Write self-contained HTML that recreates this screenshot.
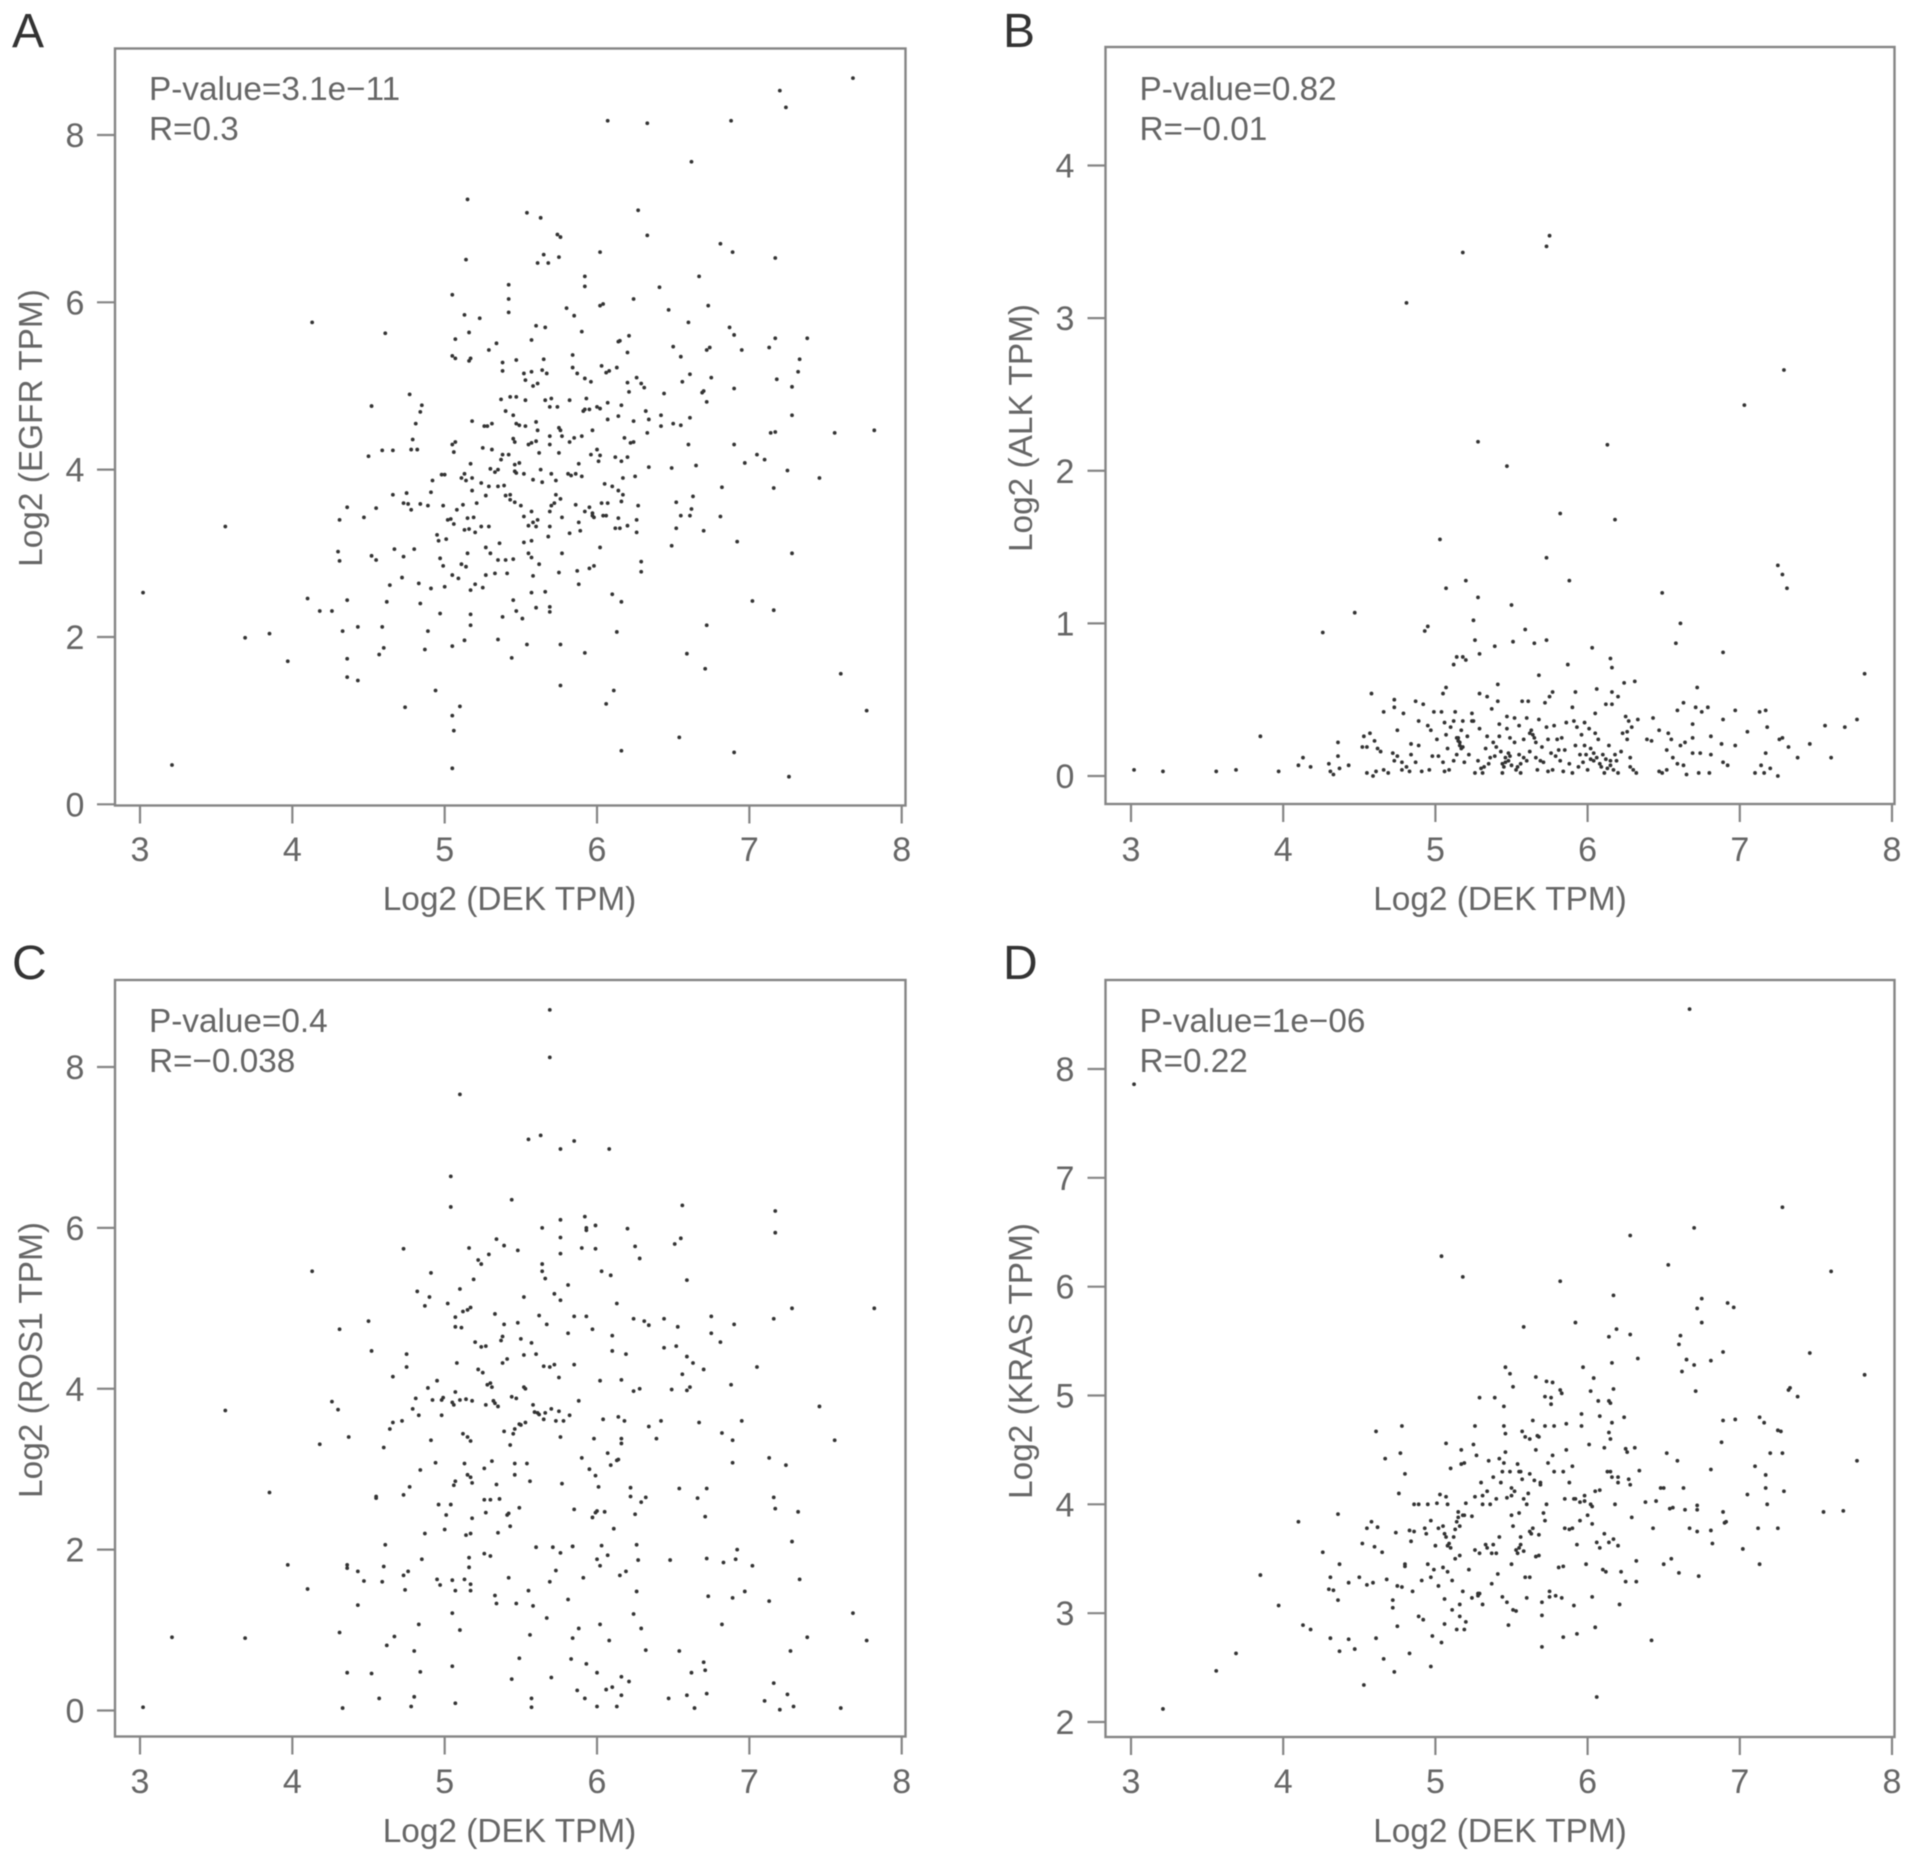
<!DOCTYPE html>
<html lang="en">
<head>
<meta charset="utf-8">
<title>DEK correlation scatter plots</title>
<style>
html,body{margin:0;padding:0;background:#fff;}
body{width:1913px;height:1863px;overflow:hidden;}
svg{display:block;filter:blur(0.55px);font-family:"Liberation Sans",sans-serif;}
.frame{fill:none;stroke:#858585;stroke-width:2.4;}
.tick{stroke:#858585;stroke-width:2.2;}
.ticklabel{font-size:34px;fill:#666;text-anchor:middle;}
.axistitle{font-size:33.4px;fill:#666;text-anchor:middle;}
.stat{font-size:33.3px;fill:#666;}
.letter{font-size:48px;fill:#333;}
.pt{fill:#333;}
</style>
</head>
<body>
<svg id="figure" width="1913" height="1863" viewBox="0 0 1913 1863" xmlns="http://www.w3.org/2000/svg">
<rect width="1913" height="1863" fill="#fff"/>
<g id="panel-a">
<text class="letter" x="12" y="47">A</text>
<rect class="frame" x="115" y="48.5" width="790.5" height="757"/>
<text class="stat" x="149" y="100">P-value=3.1e−11</text>
<text class="stat" x="149" y="140">R=0.3</text>
<text class="axistitle" x="509.5" y="910">Log2 (DEK TPM)</text>
<text class="axistitle" transform="translate(42,428) rotate(-90)">Log2 (EGFR TPM)</text>
</g>
<g id="panel-b">
<text class="letter" x="1003" y="47">B</text>
<rect class="frame" x="1105.5" y="47" width="789" height="757"/>
<text class="stat" x="1139.5" y="100">P-value=0.82</text>
<text class="stat" x="1139.5" y="140">R=−0.01</text>
<text class="axistitle" x="1500" y="910">Log2 (DEK TPM)</text>
<text class="axistitle" transform="translate(1032,428) rotate(-90)">Log2 (ALK TPM)</text>
</g>
<g id="panel-c">
<text class="letter" x="12" y="979">C</text>
<rect class="frame" x="115" y="980" width="790.5" height="756.5"/>
<text class="stat" x="149" y="1032">P-value=0.4</text>
<text class="stat" x="149" y="1072">R=−0.038</text>
<text class="axistitle" x="509.5" y="1842">Log2 (DEK TPM)</text>
<text class="axistitle" transform="translate(42,1360) rotate(-90)">Log2 (ROS1 TPM)</text>
</g>
<g id="panel-d">
<text class="letter" x="1003" y="979">D</text>
<rect class="frame" x="1105.5" y="980" width="789" height="757"/>
<text class="stat" x="1139.5" y="1032">P-value=1e−06</text>
<text class="stat" x="1139.5" y="1072">R=0.22</text>
<text class="axistitle" x="1500" y="1842">Log2 (DEK TPM)</text>
<text class="axistitle" transform="translate(1032,1361) rotate(-90)">Log2 (KRAS TPM)</text>
</g>
</svg>
<script>
const xTickValues=[3,4,5,6,7,8];
const egfrYTicks=[0,2,4,6,8];
const alkYTicks=[0,1,2,3,4];
const rosYTicks=[0,2,4,6,8];
const krasYTicks=[2,3,4,5,6,7,8];

const egfrPoints=[[3.02,2.53],[3.21,0.47],[3.56,3.32],[3.69,1.99],[3.85,2.04],[3.97,1.71],[4.10,2.46],[4.13,5.76],[4.18,2.31],[4.26,2.31],[4.30,3.02],[4.31,2.91],[4.31,3.40],[4.33,2.07],[4.36,3.55],[4.36,1.52],[4.36,1.74],[4.36,2.44],[4.43,2.12],[4.43,1.48],[4.47,3.43],[4.50,4.16],[4.52,4.76],[4.52,2.97],[4.55,2.92],[4.55,3.54],[4.57,1.79],[4.59,4.23],[4.59,2.12],[4.60,1.87],[4.61,5.63],[4.62,2.42],[4.64,2.62],[4.66,3.70],[4.66,4.23],[4.67,3.05],[4.72,2.71],[4.73,2.96],[4.73,3.60],[4.74,1.16],[4.75,3.72],[4.76,3.59],[4.77,4.90],[4.78,3.52],[4.78,4.24],[4.79,4.36],[4.80,3.05],[4.81,4.55],[4.82,4.24],[4.83,2.64],[4.84,3.59],[4.84,2.40],[4.84,4.69],[4.85,4.77],[4.87,1.85],[4.89,3.57],[4.89,2.07],[4.91,3.73],[4.92,3.87],[4.91,2.58],[4.94,1.36],[4.95,3.22],[4.96,3.15],[4.97,2.94],[4.97,2.28],[4.98,3.94],[4.99,3.57],[4.99,2.85],[5.00,2.60],[5.01,3.17],
[5.15,7.23],[5.54,7.07],[5.63,7.01],[5.74,6.81],[5.76,6.78],[6.27,7.10],[6.33,6.80],[6.07,8.17],[6.33,8.14],[6.62,7.68],[6.88,8.17],[7.20,8.53],[7.24,8.33],[7.68,8.68],[5.14,6.51],[5.61,6.47],[5.65,6.57],[5.68,6.47],[5.75,6.54],[6.02,6.60],[6.81,6.70],[6.89,6.60],[7.17,6.53],[6.67,6.31],[5.92,6.31],[5.92,6.19],[5.42,6.21],[5.42,6.04],[5.42,5.88],[5.05,6.09],[5.13,5.85],[5.23,5.81],[5.16,5.64],[5.07,5.56],[5.80,5.93],[5.85,5.84],[6.02,5.96],[6.04,5.98],[6.24,6.04],[6.41,6.18],[6.47,5.91],[6.60,5.76],[6.73,5.96],[5.60,5.72],[5.66,5.70],[5.57,5.55],[5.90,5.65],[6.14,5.53],[6.15,5.54],[6.21,5.60],[6.20,5.40],[5.34,5.51],[5.29,5.43],[5.05,5.36],[5.07,5.33],[5.16,5.30],[5.17,5.33],[5.38,5.28],[5.38,5.18],[5.47,5.31],[5.65,5.32],[5.52,5.15],[5.57,5.17],[5.64,5.19],[5.67,5.15],[5.53,5.07],[5.58,5.00],[5.61,5.03],[5.84,5.37],[5.84,5.22],[5.87,5.15],[5.92,5.09],[5.96,5.05],[6.03,5.24],[6.08,5.18],[6.06,5.16],[6.13,5.22],[6.20,5.04],[6.26,5.10],[6.29,5.03],[6.21,4.93],[6.31,4.98],[6.44,4.91],[6.50,5.47],[6.55,5.35],[6.61,5.14],[6.56,5.05],[6.72,5.43],[6.74,5.46],[6.75,5.10],[6.70,4.94],[6.72,4.81],[6.69,4.92],[6.87,5.70],[6.90,5.61],[6.95,5.43],[6.90,4.97],[7.13,5.46],[7.17,5.57],[7.38,5.57],[7.33,5.32],[7.32,5.17],[7.28,4.99],[7.18,5.08],[7.28,4.65],[7.56,4.44],[7.82,4.47],[7.14,4.44],[7.17,4.45],[6.90,4.30],[7.05,4.18],[7.10,4.12],[6.97,4.08],[7.25,3.99],[7.46,3.90],[7.16,3.78],[6.82,3.79],[6.65,4.05],[6.60,4.30],[6.49,4.02],[6.61,4.62],[6.50,4.55],[6.55,4.53],[6.42,4.52],[6.42,4.65],[6.32,4.70],[6.34,4.60],[6.24,4.58],[6.18,4.38],[6.22,4.32],[6.24,4.33],[6.33,4.44],[6.34,4.03],[6.20,4.15],[6.16,4.10],[6.12,4.15],[6.02,4.17],[6.16,4.77],[6.14,4.64],[6.07,4.60],[6.07,4.80],[6.00,4.75],[6.02,4.73],[5.92,4.72],[5.93,4.85],[5.91,4.70],[5.95,4.72],[5.82,4.83],[5.74,4.75],[5.69,4.75],[5.70,4.85],[5.66,4.83],[5.53,4.83],[5.47,4.87],[5.43,4.87],[5.37,4.84],[5.31,4.55],[5.26,4.52],[5.18,4.58],[5.40,4.70],[5.45,4.65],[5.49,4.53],[5.47,4.55],[5.53,4.52],[5.60,4.57],[5.61,4.47],[5.60,4.34],[5.57,4.32],[5.69,4.40],[5.76,4.47],[5.77,4.40],[5.69,4.30],[5.75,4.50],[5.82,4.33],[5.85,4.38],[5.90,4.40],[5.97,4.47],[6.00,4.24],[5.96,4.18],[6.01,4.10],[5.88,4.07],[5.75,4.20],[5.63,4.00],[5.46,4.33],[5.45,4.37],[5.42,4.18],[5.38,4.18],[5.35,4.00],[5.30,4.01],[5.31,4.24],[5.25,4.26],[5.07,4.33],[5.05,4.30],[5.06,4.21],[5.17,4.07],[5.13,3.95],[5.11,3.90],[5.00,3.94],[5.14,3.87],[5.18,3.90],[5.24,3.84],[5.29,3.80],[5.39,3.81],[5.33,3.97],[5.37,4.12],[5.46,4.06],[5.46,3.98],[5.47,3.96],[5.49,4.08],[5.58,3.88],[5.70,3.95],[5.73,3.87],[5.83,3.93],[5.81,3.95],[5.73,3.70],[5.72,3.60],[5.76,3.65],[5.77,3.43],[5.70,3.57],[5.69,3.50],[5.64,3.85],[5.57,3.50],[5.50,3.57],[5.46,3.61],[5.43,3.70],[5.40,3.69],[5.43,3.64],[5.27,3.69],[5.18,3.75],[5.12,3.58],[5.15,3.42],[5.04,3.41],[5.02,3.40],[5.06,3.35],[5.13,3.28],[5.16,3.29],[5.19,3.43],[5.20,3.25],[5.24,3.32],[5.29,3.32],[5.36,3.12],[5.27,3.07],[5.30,3.00],[5.35,2.92],[5.40,2.92],[5.45,2.93],[5.52,3.44],[5.55,3.33],[5.58,3.37],[5.61,3.40],[5.52,3.13],[5.55,3.00],[5.57,3.15],[5.57,2.95],[5.69,3.32],[5.68,3.20],[5.77,3.00],[5.62,2.87],[5.58,2.73],[5.75,2.77],[5.89,3.27],[5.82,3.24],[5.88,3.37],[5.97,3.48],[5.98,3.43],[6.02,3.07],[5.98,2.85],[5.95,2.82],[5.87,2.79],[5.88,2.63],[6.10,2.51],[6.16,2.42],[6.13,2.06],[6.10,3.80],[5.05,2.74],[5.09,2.70],[5.11,2.87],[5.20,2.63],[5.14,2.84],[5.17,2.56],[5.25,2.59],[5.27,2.74],[5.33,2.76],[5.41,2.76],[5.15,3.00],[5.45,2.44],[5.47,2.31],[5.51,2.22],[5.38,2.24],[5.60,2.35],[5.57,2.53],[5.66,2.54],[5.69,2.36],[5.69,2.30],[5.17,2.27],[5.17,2.14],[5.13,1.96],[5.35,1.97],[5.54,1.91],[5.05,1.89],[5.44,1.75],[5.76,1.91],[5.92,1.81],[5.76,1.42],[6.11,1.36],[6.06,1.20],[5.10,1.17],[5.05,1.06],[5.06,0.88],[5.05,0.43],[6.16,0.64],[6.54,0.80],[6.90,0.62],[7.26,0.33],[7.77,1.12],[7.60,1.56],[6.71,1.62],[6.59,1.80],[6.72,2.14],[7.02,2.43],[7.16,2.32],[7.28,3.00],[6.92,3.14],[6.70,3.27],[6.49,3.09],[6.52,3.30],[6.55,3.45],[6.61,3.45],[6.62,3.53],[6.63,3.68],[6.52,3.61],[6.81,3.44],[6.29,2.90],[6.29,2.78],[6.26,3.25],[6.26,3.40],[6.27,3.57],[6.20,3.33],[6.15,3.30],[6.12,3.30],[6.14,3.42],[6.16,3.62],[6.14,3.75],[6.17,3.70],[6.17,3.90],[6.25,3.92],[6.06,3.45],[6.07,3.60],[6.05,3.83],[5.97,3.45],[5.55,4.30],[5.62,4.20],[5.90,3.92],[5.95,3.55],[6.03,3.60],[5.86,3.58],[5.35,3.80],[5.21,3.60],[5.08,3.52],[5.28,4.52],[5.86,3.95],[5.52,3.95],[5.60,3.32],[5.92,3.50],[6.04,3.45]];

const alkPoints=[[3.02,0.04],[3.21,0.03],[3.56,0.03],[3.69,0.04],[3.85,0.26],[3.97,0.03],[4.10,0.07],[4.13,0.12],[4.18,0.06],[4.26,0.94],[4.30,0.08],[4.31,0.03],[4.33,0.01],[4.36,0.22],[4.36,0.13],[4.37,0.05],[4.43,0.07],[4.47,1.07],[4.52,0.19],[4.53,0.26],[4.55,0.19],[4.55,0.02],[4.57,0.28],[4.59,0.00],[4.58,0.54],[4.60,0.23],[4.62,0.18],[4.61,0.03],[4.64,0.16],[4.66,0.04],[4.66,0.42],[4.69,0.02],[4.72,0.15],[4.73,0.10],[4.73,0.50],[4.73,0.45],[4.75,0.13],[4.75,0.30],[4.78,0.09],[4.78,0.04],[4.79,0.41],[4.81,0.06],[4.83,0.03],[4.84,0.21],[4.84,0.14],[4.87,0.49],[4.87,0.09],[4.89,0.36],[4.89,0.20],[4.91,0.03],[4.92,0.47],[4.93,0.95],[4.95,0.98],[4.95,0.33],[4.96,0.04],[4.97,0.30],[4.98,0.13],[4.99,0.42],[5.01,0.24],[5.03,1.55],[5.04,0.42],[5.05,0.54],[5.05,0.09],[5.06,0.35],[5.06,0.03],[5.07,1.23],[5.07,0.58],[5.07,0.27],[5.08,0.18],[5.09,0.04],[5.10,0.32],[5.12,0.73],[5.12,0.36],[5.12,0.10],[5.13,0.42],[5.14,0.78],[5.14,0.25],[5.14,0.14],[5.15,0.23],[5.16,0.20],[5.17,0.30],[5.18,0.36],[5.18,0.78],[5.18,3.43],[5.18,0.19],[5.19,0.09],[5.20,1.28],[5.20,0.76],[5.21,0.26],[5.24,0.41],[5.24,0.36],[5.25,1.02],[5.25,0.36],[5.26,0.89],[5.26,0.02],[5.28,2.19],[5.28,1.17],[5.29,0.80],[5.29,0.54],[5.29,0.31],[5.30,0.05],[5.31,0.02],[5.33,0.18],[5.34,0.52],[5.34,0.26],[5.35,0.08],[5.37,0.44],[5.38,0.22],[5.39,0.85],[5.39,0.13],[5.41,0.49],[5.41,0.60],[5.42,0.34],[5.42,0.26],[5.43,0.16],[5.44,0.08],[5.45,0.06],[5.46,0.12],[5.47,2.03],[5.47,0.39],[5.47,0.31],[5.48,0.15],[5.49,0.25],[5.50,1.12],[5.50,0.07],[5.51,0.88],[5.52,0.38],[5.52,0.22],[5.53,0.04],[5.55,0.14],[5.55,0.33],[5.56,0.02],[5.57,0.49],[5.58,0.24],[5.59,0.96],[5.60,0.38],[5.60,0.10],[5.61,0.49],[5.62,0.16],[5.63,0.30],[5.64,0.27],[5.65,0.87],[5.66,0.22],[5.67,0.04],[5.68,0.66],[5.68,0.37],[5.69,0.10],[5.70,0.19],[5.72,0.48],[5.73,3.47],[5.73,1.43],[5.73,0.89],[5.73,0.32],[5.74,0.03],[5.75,3.54],[5.75,0.52],[5.76,0.15],[5.77,0.55],[5.77,0.04],[5.78,0.33],[5.80,0.24],[5.82,1.72],[5.82,0.10],[5.83,0.25],[5.84,0.03],[5.85,0.17],[5.86,0.35],[5.87,0.73],[5.88,1.28],[5.88,0.08],[5.90,0.45],[5.90,0.02],[5.91,0.36],[5.92,0.20],[5.92,0.55],[5.93,0.32],[5.95,0.14],[5.96,0.27],[5.97,0.09],[5.98,0.35],[5.99,0.14],[6.00,0.04],[6.01,0.31],[6.02,0.18],[6.03,0.84],[6.04,0.10],[6.05,0.41],[6.06,0.57],[6.06,0.12],[6.07,0.24],[6.08,0.08],[6.10,0.14],[6.11,0.02],[6.12,0.47],[6.13,2.17],[6.13,0.05],[6.14,0.20],[6.15,0.77],[6.15,0.10],[6.16,0.71],[6.16,0.55],[6.16,0.47],[6.17,0.04],[6.18,1.68],[6.19,0.10],[6.20,0.02],[6.20,0.52],[6.22,0.16],[6.23,0.28],[6.24,0.61],[6.25,0.39],[6.26,0.24],[6.27,0.36],[6.28,0.12],[6.29,0.32],[6.30,0.04],[6.31,0.62],[6.32,0.02],[6.33,0.37],[6.39,0.24],[6.43,0.38],[6.42,0.23],[6.47,0.30],[6.49,1.20],[6.47,0.03],[6.52,0.04],[6.52,0.17],[6.53,0.28],[6.55,0.24],[6.56,0.12],[6.58,0.87],[6.59,0.43],[6.59,0.08],[6.61,1.00],[6.61,0.20],[6.63,0.48],[6.63,0.07],[6.64,0.22],[6.65,0.01],[6.69,0.25],[6.69,0.34],[6.69,0.15],[6.72,0.58],[6.71,0.45],[6.73,0.02],[6.74,0.15],[6.75,0.42],[6.79,0.45],[6.80,0.02],[6.81,0.14],[6.81,0.26],[6.89,0.81],[6.88,0.21],[6.89,0.37],[6.89,0.09],[6.92,0.07],[6.97,0.20],[6.97,0.43],[7.05,0.29],[7.10,0.02],[7.13,0.42],[7.14,0.07],[7.16,0.02],[7.17,0.15],[7.17,0.43],[7.18,0.32],[7.20,0.05],[7.25,1.38],[7.25,0.00],[7.26,0.24],[7.28,1.32],[7.28,0.25],[7.29,2.66],[7.31,1.23],[7.32,0.19],[7.38,0.12],[7.03,2.43],[7.46,0.21],[7.56,0.33],[7.60,0.12],[7.69,0.32],[7.77,0.37],[7.82,0.67],[4.81,3.10],[6.49,0.02],[5.36,0.12],[5.58,0.12],[5.98,0.20],[6.05,0.28],[5.16,0.22],[5.17,0.18],[5.15,0.25],[5.46,0.09],[5.48,0.10],[5.49,0.13],[5.62,0.28],[5.65,0.25],[5.44,0.02],[5.54,0.06],[5.56,0.08],[5.71,0.09],[5.79,0.13],[5.81,0.17],[5.94,0.06],[6.02,0.11],[6.04,0.15],[6.09,0.06],[6.12,0.11],[6.15,0.07],[6.18,0.14],[6.26,0.29],[6.28,0.06],[5.22,0.14],[5.28,0.10],[5.32,0.06],[5.40,0.19],[5.02,0.13],[5.66,0.12],[5.74,0.24]];

const rosPoints=[[3.02,0.04],[3.21,0.91],[3.56,3.73],[3.69,0.90],[3.85,2.71],[3.97,1.81],[4.10,1.51],[4.13,5.46],[4.18,3.31],[4.26,3.84],[4.30,3.74],[4.31,0.97],[4.31,4.74],[4.33,0.03],[4.36,1.77],[4.36,1.81],[4.36,0.47],[4.37,3.40],[4.43,1.73],[4.43,1.31],[4.47,1.61],[4.50,4.84],[4.52,4.47],[4.52,0.46],[4.55,2.66],[4.55,2.64],[4.57,0.15],[4.59,1.60],[4.60,1.79],[4.60,3.27],[4.61,2.06],[4.62,0.81],[4.64,3.50],[4.66,3.58],[4.66,4.15],[4.67,0.92],[4.72,3.60],[4.73,5.74],[4.73,1.68],[4.73,2.68],[4.74,1.50],[4.75,4.27],[4.75,4.43],[4.76,1.73],[4.77,2.78],[4.78,0.05],[4.79,3.75],[4.80,0.17],[4.80,0.74],[4.81,3.88],[4.82,5.21],[4.83,1.07],[4.83,3.67],[4.84,2.99],[4.84,0.48],[4.85,1.88],[4.87,5.03],[4.87,2.20],[4.89,4.01],[4.90,5.14],[4.91,3.36],[4.91,5.44],[4.92,3.86],[4.94,3.08],[4.95,1.63],[4.95,4.10],[4.96,2.56],[4.97,1.56],[4.98,3.67],[4.98,3.86],[4.99,3.89],[5.00,2.25],[5.01,2.43],[5.02,5.06],[5.04,6.64],[5.04,6.26],[5.04,2.56],[5.05,1.62],[5.05,1.21],[5.05,0.55],[5.05,3.83],[5.06,2.80],[5.06,3.80],[5.07,4.89],[5.07,4.77],[5.07,0.09],[5.07,1.49],[5.07,3.96],[5.07,2.85],[5.08,4.32],[5.10,7.66],[5.10,1.00],[5.10,3.86],[5.11,4.76],[5.10,5.24],[5.12,4.96],[5.12,3.44],[5.13,3.07],[5.13,1.63],[5.14,2.18],[5.14,3.87],[5.15,4.98],[5.15,3.40],[5.15,2.93],[5.16,1.78],[5.16,5.75],[5.16,1.90],[5.17,2.20],[5.17,1.57],[5.17,1.49],[5.17,2.90],[5.17,3.35],[5.17,5.01],[5.18,2.39],[5.18,3.85],[5.18,2.83],[5.19,5.36],[5.20,4.58],[5.22,5.60],[5.22,4.24],[5.24,5.55],[5.24,4.52],[5.25,4.20],[5.26,2.62],[5.26,3.01],[5.26,1.95],[5.27,2.46],[5.27,4.53],[5.28,4.05],[5.29,5.67],[5.30,2.62],[5.30,1.92],[5.31,4.02],[5.31,3.10],[5.32,3.85],[5.33,1.43],[5.33,4.93],[5.34,5.86],[5.34,1.33],[5.34,2.81],[5.35,3.78],[5.35,2.21],[5.36,2.63],[5.37,4.60],[5.39,5.78],[5.38,4.32],[5.39,4.80],[5.39,3.47],[5.41,2.43],[5.42,1.65],[5.43,3.30],[5.43,2.29],[5.44,6.35],[5.44,0.39],[5.45,3.44],[5.46,3.07],[5.46,2.93],[5.47,1.33],[5.47,3.88],[5.48,5.72],[5.48,4.82],[5.49,3.56],[5.49,2.52],[5.49,0.65],[5.50,4.62],[5.52,5.14],[5.52,4.42],[5.53,3.58],[5.53,4.00],[5.54,3.07],[5.55,7.10],[5.55,1.49],[5.56,2.85],[5.56,0.94],[5.57,4.57],[5.57,0.15],[5.57,0.04],[5.58,1.30],[5.58,3.80],[5.59,3.71],[5.60,2.03],[5.60,4.43],[5.61,3.70],[5.62,4.91],[5.63,7.15],[5.64,5.55],[5.64,5.46],[5.64,6.00],[5.65,3.62],[5.66,5.37],[5.67,4.80],[5.67,1.15],[5.69,8.71],[5.69,8.12],[5.69,4.27],[5.69,1.60],[5.70,0.41],[5.71,2.03],[5.72,5.18],[5.73,1.74],[5.73,3.60],[5.75,4.14],[5.76,6.98],[5.76,6.10],[5.76,5.88],[5.76,5.68],[5.76,5.10],[5.76,1.96],[5.76,3.40],[5.77,2.82],[5.78,3.60],[5.81,4.69],[5.81,5.29],[5.81,1.38],[5.82,3.67],[5.83,0.64],[5.84,2.04],[5.84,0.90],[5.85,7.08],[5.85,4.90],[5.85,2.50],[5.85,4.30],[5.87,0.25],[5.88,3.85],[5.88,1.02],[5.90,5.75],[5.90,3.14],[5.91,1.65],[5.92,6.14],[5.92,0.15],[5.93,5.97],[5.93,6.00],[5.93,4.90],[5.93,0.58],[5.95,3.00],[5.97,4.74],[5.97,2.40],[5.98,3.38],[5.99,2.92],[5.99,6.03],[5.99,5.74],[6.00,0.47],[6.00,1.88],[6.00,0.05],[6.01,2.78],[6.02,4.10],[6.02,1.80],[6.02,1.07],[6.03,5.46],[6.03,2.05],[6.04,3.62],[6.05,2.47],[6.06,0.26],[6.07,3.20],[6.07,1.93],[6.08,6.98],[6.08,0.87],[6.09,3.05],[6.09,5.41],[6.10,4.66],[6.10,4.47],[6.10,0.29],[6.11,2.26],[6.13,3.11],[6.13,5.06],[6.13,0.05],[6.14,3.65],[6.15,1.68],[6.16,4.11],[6.16,3.38],[6.16,3.32],[6.16,0.42],[6.16,0.19],[6.18,3.60],[6.19,1.73],[6.19,4.43],[6.20,5.99],[6.21,0.36],[6.22,2.77],[6.22,2.66],[6.24,3.97],[6.24,4.87],[6.24,1.20],[6.25,5.77],[6.25,2.44],[6.26,2.06],[6.26,1.48],[6.27,1.87],[6.28,5.62],[6.28,4.00],[6.29,2.59],[6.29,1.02],[6.31,4.84],[6.32,0.75],[6.32,2.65],[6.34,4.79],[6.34,3.53],[6.39,3.38],[6.42,3.60],[6.44,4.51],[6.44,4.87],[6.47,0.15],[6.48,1.87],[6.49,3.99],[6.51,5.80],[6.52,4.53],[6.53,4.77],[6.54,0.74],[6.54,2.76],[6.55,5.87],[6.56,6.28],[6.56,4.18],[6.59,5.35],[6.59,4.40],[6.59,3.98],[6.59,0.19],[6.61,4.02],[6.62,0.47],[6.63,4.32],[6.64,0.03],[6.66,2.64],[6.67,3.58],[6.70,4.24],[6.70,0.60],[6.71,2.41],[6.72,2.76],[6.71,0.50],[6.72,1.89],[6.72,0.21],[6.73,1.42],[6.75,4.90],[6.75,4.69],[6.81,4.58],[6.82,3.45],[6.82,1.07],[6.83,1.84],[6.88,4.05],[6.89,3.36],[6.89,3.08],[6.89,1.40],[6.90,4.80],[6.91,1.88],[6.92,2.00],[6.95,3.60],[6.97,1.48],[7.02,1.80],[7.05,4.27],[7.10,0.12],[7.13,1.36],[7.13,3.14],[7.16,4.87],[7.16,2.65],[7.17,6.21],[7.17,5.94],[7.17,2.51],[7.16,0.34],[7.20,0.01],[7.24,3.05],[7.25,0.20],[7.27,0.74],[7.28,5.00],[7.28,2.10],[7.29,0.05],[7.32,2.47],[7.33,1.63],[7.38,0.91],[7.46,3.78],[7.56,3.36],[7.60,0.03],[7.68,1.21],[7.77,0.87],[7.82,5.00],[5.46,3.50],[5.50,3.55],[5.62,3.68],[5.66,3.70],[5.70,3.75],[5.75,3.72],[5.44,3.90],[5.52,4.02],[5.41,4.37],[5.38,4.65],[5.65,4.28],[5.72,4.30],[5.84,2.04],[5.99,2.46],[6.00,2.48],[5.42,2.45],[6.14,3.12],[5.27,3.80],[5.30,4.07],[5.33,3.82]];

const krasPoints=[[3.02,7.86],[3.21,2.12],[3.56,2.47],[3.69,2.63],[3.85,3.35],[3.97,3.07],[4.10,3.84],[4.13,2.89],[4.18,2.85],[4.26,3.56],[4.30,3.22],[4.31,3.33],[4.31,2.77],[4.33,3.21],[4.36,3.91],[4.36,3.12],[4.37,3.45],[4.37,2.65],[4.43,2.76],[4.43,3.28],[4.47,2.67],[4.50,3.33],[4.52,3.64],[4.53,2.34],[4.55,3.26],[4.55,3.78],[4.58,3.84],[4.59,3.28],[4.60,3.61],[4.61,2.77],[4.62,3.79],[4.61,4.67],[4.65,3.56],[4.66,2.58],[4.68,3.31],[4.67,4.42],[4.72,3.12],[4.72,3.05],[4.73,2.46],[4.74,3.74],[4.75,2.88],[4.75,3.25],[4.76,4.10],[4.77,4.47],[4.78,3.24],[4.78,4.72],[4.80,4.28],[4.80,3.45],[4.80,3.43],[4.83,3.76],[4.83,2.63],[4.84,3.66],[4.85,3.20],[4.86,3.75],[4.86,4.00],[4.89,4.00],[4.89,2.97],[4.91,3.30],[4.92,2.94],[4.93,3.78],[4.94,3.73],[4.95,4.00],[4.95,3.45],[4.97,3.33],[4.97,2.51],[4.97,3.85],[4.98,2.79],[4.99,3.40],[5.00,3.62],[5.01,4.01],[5.02,3.78],[5.02,3.25],[5.03,4.09],[5.04,2.73],[5.05,3.80],[5.05,3.42],[5.06,3.73],[5.06,3.13],[5.06,2.90],[5.07,3.70],[5.07,4.56],[5.07,4.07],[5.08,4.00],[5.08,3.38],[5.09,3.64],[5.10,3.60],[5.10,4.33],[5.11,3.30],[5.11,3.03],[5.13,3.77],[5.13,3.50],[5.14,3.84],[5.14,2.85],[5.15,3.93],[5.16,3.80],[5.16,3.53],[5.16,3.08],[5.16,2.97],[5.17,4.37],[5.17,4.50],[5.18,6.09],[5.18,3.90],[5.18,3.20],[5.19,4.38],[5.19,2.85],[5.19,3.90],[5.20,4.01],[5.20,2.92],[5.22,3.40],[5.24,3.14],[5.24,3.89],[5.25,4.55],[5.26,4.07],[5.26,3.58],[5.26,4.72],[5.27,4.45],[5.28,3.16],[5.29,3.18],[5.29,3.55],[5.29,4.98],[5.30,4.20],[5.31,4.08],[5.31,3.08],[5.31,4.00],[5.33,3.63],[5.34,4.12],[5.35,4.40],[5.36,4.00],[5.37,3.55],[5.37,3.27],[5.38,4.25],[5.38,3.63],[5.39,4.98],[5.40,3.55],[5.41,3.36],[5.42,4.42],[5.42,3.70],[5.43,4.20],[5.44,3.15],[5.44,4.30],[5.45,4.72],[5.45,4.90],[5.46,4.48],[5.46,4.65],[5.46,5.26],[5.47,4.06],[5.47,3.10],[5.48,2.89],[5.49,4.30],[5.49,5.20],[5.50,4.08],[5.50,3.90],[5.50,3.45],[5.51,5.08],[5.51,3.03],[5.51,3.80],[5.52,4.12],[5.53,3.02],[5.54,3.55],[5.54,4.37],[5.55,3.92],[5.56,4.30],[5.56,3.63],[5.57,4.23],[5.57,4.67],[5.58,3.57],[5.58,5.63],[5.59,3.33],[5.59,4.62],[5.60,4.00],[5.60,3.14],[5.61,4.10],[5.62,3.33],[5.62,4.28],[5.62,4.60],[5.63,3.73],[5.64,4.77],[5.64,3.78],[5.66,5.17],[5.66,3.52],[5.66,4.50],[5.67,4.63],[5.68,3.53],[5.68,4.62],[5.69,4.20],[5.69,4.18],[5.70,3.10],[5.70,2.98],[5.70,2.69],[5.71,3.92],[5.72,4.99],[5.72,4.72],[5.73,5.13],[5.73,4.00],[5.74,4.38],[5.75,3.20],[5.75,3.15],[5.76,4.98],[5.76,4.92],[5.77,5.12],[5.77,4.45],[5.78,4.72],[5.78,4.30],[5.79,3.16],[5.81,3.42],[5.82,6.05],[5.82,5.05],[5.83,5.02],[5.83,3.14],[5.84,4.30],[5.84,3.43],[5.84,2.78],[5.85,3.78],[5.86,4.74],[5.86,4.50],[5.88,3.77],[5.88,4.20],[5.90,4.35],[5.90,3.78],[5.91,4.05],[5.91,3.07],[5.92,5.67],[5.92,4.05],[5.93,3.63],[5.93,2.81],[5.95,4.02],[5.96,4.83],[5.96,4.72],[5.97,5.26],[5.98,4.08],[5.99,3.45],[6.00,3.90],[6.01,4.55],[6.02,5.04],[6.02,4.00],[6.03,3.15],[6.03,3.82],[6.04,5.16],[6.05,2.87],[6.05,4.12],[6.06,3.65],[6.06,2.23],[6.07,4.95],[6.08,4.13],[6.08,4.81],[6.10,3.40],[6.11,3.73],[6.11,4.52],[6.12,3.38],[6.13,4.30],[6.14,5.54],[6.14,4.66],[6.14,4.95],[6.15,4.93],[6.15,4.60],[6.16,4.75],[6.16,4.25],[6.16,5.30],[6.17,5.92],[6.17,5.06],[6.17,3.68],[6.18,4.00],[6.19,5.61],[6.20,3.62],[6.20,4.20],[6.21,3.08],[6.22,3.38],[6.24,4.80],[6.25,4.51],[6.26,4.48],[6.25,3.29],[6.27,4.23],[6.28,6.47],[6.28,5.56],[6.28,4.18],[6.29,3.88],[6.31,4.52],[6.32,3.48],[6.32,3.29],[6.33,5.34],[6.34,4.31],[6.38,4.02],[6.42,2.75],[6.43,3.78],[6.45,4.03],[6.48,4.15],[6.50,3.45],[6.50,4.15],[6.52,4.47],[6.53,6.20],[6.54,3.96],[6.55,3.50],[6.56,3.97],[6.59,4.40],[6.60,5.47],[6.61,5.55],[6.60,3.37],[6.62,5.22],[6.63,4.15],[6.64,3.95],[6.65,5.33],[6.67,3.78],[6.70,5.28],[6.70,6.54],[6.71,5.04],[6.72,5.80],[6.72,3.99],[6.72,3.95],[6.72,3.75],[6.73,3.34],[6.75,5.89],[6.75,5.67],[6.81,3.76],[6.82,3.64],[6.81,4.32],[6.81,5.32],[6.89,5.40],[6.88,4.57],[6.89,4.77],[6.89,3.93],[6.90,3.83],[6.91,3.84],[6.92,5.85],[6.96,5.81],[6.97,4.78],[7.02,3.59],[7.05,4.09],[7.10,4.35],[7.13,3.45],[7.13,4.80],[7.12,3.78],[7.16,4.75],[7.17,4.27],[7.17,4.15],[7.18,4.00],[7.20,4.47],[7.25,3.78],[7.25,4.68],[7.27,4.67],[7.28,6.73],[7.28,4.47],[7.29,4.12],[7.32,5.05],[7.33,5.07],[7.38,4.99],[7.46,5.39],[7.55,3.93],[7.60,6.14],[7.68,3.94],[7.77,4.40],[7.82,5.19],[6.67,8.55],[5.04,6.28],[5.53,3.58],[5.55,3.60],[5.56,3.70],[5.62,3.75],[5.68,3.72],[5.72,3.85],[5.50,4.15],[5.55,4.30],[5.58,4.05],[5.65,4.22],[5.85,4.05],[5.95,3.85],[5.98,4.03],[6.03,3.98],[6.08,3.60],[6.14,3.65],[6.15,4.30],[6.20,4.25],[5.34,3.60],[5.40,4.05],[5.45,4.38],[5.28,3.18],[5.15,3.88],[5.12,3.70],[5.08,3.62]];

const NS='http://www.w3.org/2000/svg';

function makeScale(v0,p0,v1,p1){
  return function(v){return p0+(v-v0)*(p1-p0)/(v1-v0);};
}

function drawPanel(groupId,prefix,points,yTicks,xScale,yScale,frameLeft,frameBottom,xLabelY,yLabelX){
  const g=document.getElementById(groupId);
  xTickValues.forEach(function(v){
    const t=document.createElementNS(NS,'line');
    t.setAttribute('class','tick');
    t.setAttribute('x1',xScale(v));
    t.setAttribute('x2',xScale(v));
    t.setAttribute('y1',frameBottom);
    t.setAttribute('y2',frameBottom+18);
    
    
    g.appendChild(t);
    const l=document.createElementNS(NS,'text');
    l.setAttribute('class','ticklabel');
    l.setAttribute('x',xScale(v));
    l.setAttribute('y',xLabelY);
    l.textContent=v;
    
    
    g.appendChild(l);
  });
  yTicks.forEach(function(v){
    const t=document.createElementNS(NS,'line');
    t.setAttribute('class','tick');
    t.setAttribute('x1',frameLeft-18);
    t.setAttribute('x2',frameLeft);
    t.setAttribute('y1',yScale(v));
    t.setAttribute('y2',yScale(v));
    
    
    g.appendChild(t);
    const l=document.createElementNS(NS,'text');
    l.setAttribute('class','ticklabel');
    l.setAttribute('x',yLabelX);
    l.setAttribute('y',yScale(v)+12);
    l.textContent=v;
    
    
    g.appendChild(l);
  });
  points.forEach(function(p){
    const c=document.createElementNS(NS,'circle');
    c.setAttribute('class','pt');
    c.setAttribute('cx',xScale(p[0]));
    c.setAttribute('cy',yScale(p[1]));
    c.setAttribute('r',1.9);
    
    
    g.appendChild(c);
  });
}

const xLeftCol=makeScale(3,140,8,901.7);
const xRightCol=makeScale(3,1131,8,1892);
drawPanel('panel-a','egfr',egfrPoints,egfrYTicks,xLeftCol,makeScale(0,804.3,8,135),115,805.5,861,75);
drawPanel('panel-b','alk',alkPoints,alkYTicks,xRightCol,makeScale(0,776,4,165.5),1105.5,804,861,1065);
drawPanel('panel-c','ros1',rosPoints,rosYTicks,xLeftCol,makeScale(0,1710.5,8,1067),115,1736.5,1793,75);
drawPanel('panel-d','kras',krasPoints,krasYTicks,xRightCol,makeScale(2,1722,8,1069),1105.5,1737,1793,1065);
</script>
</body>
</html>
